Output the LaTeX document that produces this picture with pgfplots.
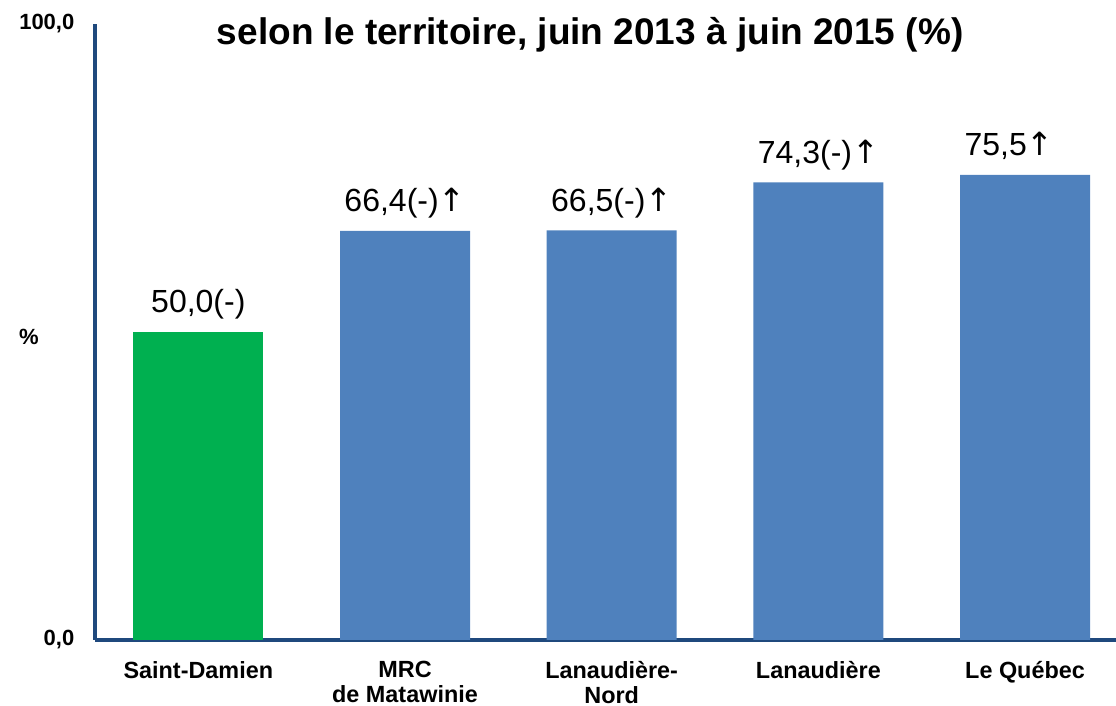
\documentclass[border=0pt]{standalone}
\usepackage{pgfplots}
\pgfplotsset{compat=1.18}
\usepackage{fontspec}
\setmainfont{Liberation Sans}
\newfontfamily\arrowfont{DejaVu Sans}
\newcommand{\up}{{\arrowfont ↑}}

\definecolor{axisblue}{HTML}{1F497D}
\definecolor{barblue}{HTML}{4F81BD}
\definecolor{bargreen}{HTML}{00B050}

\begin{document}
\begin{tikzpicture}
\begin{axis}[
    scale only axis,
    width=510.5pt, height=308pt,
    xmin=-0.5, xmax=4.44,
    ymin=0, ymax=100,
    axis x line*=bottom,
    axis y line*=left,
    axis line style={axisblue, line width=2pt},
    ybar,
    bar width=65pt,
    xtick={0,1,2,3,4},
    xticklabels={Saint-Damien, {MRC\\de Matawinie}, {Lanaudière-\\Nord}, Lanaudière, Le Québec},
    xticklabel style={align=center, font=\fontsize{11.7}{12.6}\selectfont\bfseries, yshift=-7pt},
    ytick={0,100},
    yticklabels={{0,0},{100,0}},
    yticklabel style={font=\fontsize{11}{12}\selectfont\bfseries, xshift=-6.8pt},
    major tick length=0pt,
    nodes near coords,
    point meta=explicit symbolic,
    every node near coord/.append style={font=\fontsize{16}{18}\selectfont, anchor=base, yshift=9.5pt},
    clip=false,
]
% % des logements ... selon le territoire
\addplot[fill=bargreen, draw=none, bar shift=0pt] coordinates {
    (0,50.0) [50,0(-)]
};
\addplot[fill=barblue, draw=none, bar shift=0pt] coordinates {
    (1,66.4) [66,4(-)\up]
    (2,66.5) [66,5(-)\up]
    (3,74.3) [74,3(-)\up]
    (4,75.5) [75,5\up\hphantom{(-)}]
};
\node[font=\fontsize{11}{12}\selectfont\bfseries] at (rel axis cs:0,0.492) [xshift=-33pt] {\%};
\node[font=\fontsize{18.5}{20}\selectfont\bfseries, anchor=base] at (rel axis cs:0.485,1) [yshift=-10.5pt]
    {selon le territoire, juin 2013 à juin 2015 (\%)};
\end{axis}
\pgfresetboundingbox
\path (current axis.south west) ++(-47.5pt,-33pt) rectangle ([yshift=12pt]current axis.north east);
\end{tikzpicture}
\end{document}
